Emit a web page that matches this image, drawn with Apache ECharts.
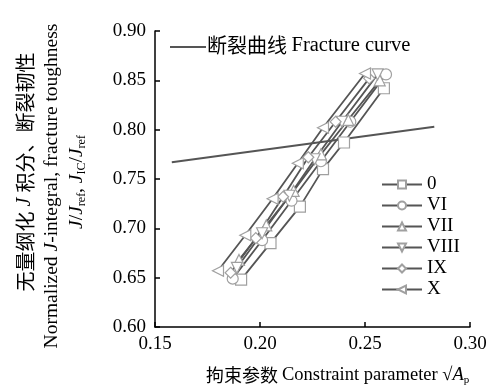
<!DOCTYPE html>
<html>
<head>
<meta charset="utf-8">
<script src="https://cdn.jsdelivr.net/npm/echarts@6/dist/echarts.min.js"></script>
<style>
  html, body { margin: 0; padding: 0; background: #fff; }
  #chart { width: 490px; height: 389px; }
</style>
</head>
<body>
<div id="chart"></div>
<script>
var dom = document.getElementById('chart');
var chart = echarts.init(dom, null, { renderer: 'canvas' });

// fracture curve
const fractureCurve = [[0.158, 0.767], [0.283, 0.803]];

// constraint parameter vs normalized J, per specimen
const names = ['0', 'VI', 'VII', 'VIII', 'IX', 'X'];
const s0    = [[0.191, 0.648], [0.205, 0.685], [0.219, 0.722], [0.230, 0.760], [0.240, 0.787], [0.259, 0.842]];
const sVI   = [[0.187, 0.649], [0.201, 0.688], [0.215, 0.728], [0.229, 0.768], [0.243, 0.808], [0.260, 0.856]];
const sVII  = [[0.190, 0.668], [0.203, 0.703], [0.216, 0.738], [0.229, 0.775], [0.242, 0.810], [0.257, 0.850]];
const sVIII = [[0.189, 0.660], [0.201, 0.695], [0.214, 0.733], [0.226, 0.770], [0.239, 0.808], [0.256, 0.856]];
const sIX   = [[0.186, 0.655], [0.198, 0.690], [0.211, 0.732], [0.223, 0.772], [0.236, 0.808], [0.252, 0.852]];
const sX    = [[0.180, 0.657], [0.193, 0.693], [0.206, 0.730], [0.218, 0.766], [0.230, 0.802], [0.250, 0.857]];

const seriesData = [s0, sVI, sVII, sVIII, sIX, sX];
const symbols = ['rect', 'circle', 'triangle', 'triangle', 'diamond', 'triangle'];
const rotates = [0, 0, 0, 180, 0, 90];

var serif = '"Liberation Serif", "Times New Roman", serif';
var cjk = '"Noto Sans CJK SC", sans-serif';

var series = [{
  name: 'fracture',
  type: 'line',
  data: fractureCurve,
  symbol: 'none',
  lineStyle: { color: '#555', width: 2 },
  itemStyle: { color: '#555' },
  z: 1
}];
for (let i = 0; i < names.length; i++) {
  series.push({
    name: names[i],
    type: 'line',
    data: seriesData[i],
    symbol: symbols[i],
    symbolRotate: rotates[i],
    symbolSize: 11,
    showAllSymbol: true,
    lineStyle: { color: '#555', width: 1.8 },
    itemStyle: { color: '#fff', borderColor: '#a0a0a0', borderWidth: 1.2 },
    z: 2
  });
}

var option = {
  backgroundColor: '#fff',
  animation: false,
  grid: { left: 155, right: 20, top: 31, bottom: 62 },
  xAxis: {
    type: 'value',
    min: 0.15, max: 0.30, interval: 0.05,
    axisLine: { lineStyle: { color: '#000', width: 1.5 } },
    axisTick: { inside: true, length: 5, lineStyle: { color: '#000', width: 1.5 } },
    axisLabel: { color: '#000', fontFamily: serif, fontSize: 19, margin: 8,
      formatter: function (v) { return v.toFixed(2); } },
    splitLine: { show: false }
  },
  yAxis: {
    type: 'value',
    min: 0.60, max: 0.90, interval: 0.05,
    axisLine: { show: true, lineStyle: { color: '#000', width: 1.5 } },
    axisTick: { show: true, inside: true, length: 5, lineStyle: { color: '#000', width: 1.5 } },
    axisLabel: { color: '#000', fontFamily: serif, fontSize: 19, margin: 9,
      formatter: function (v) { return v.toFixed(2); } },
    splitLine: { show: false }
  },
  legend: {
    data: names,
    orient: 'vertical',
    left: 376, top: 170,
    itemWidth: 40, itemHeight: 10,
    itemGap: 2,
    textStyle: { color: '#000', fontFamily: serif, fontSize: 19 }
  },
  graphic: [{
    type: 'line',
    shape: { x1: 170, y1: 47, x2: 206, y2: 47 },
    style: { stroke: '#555', lineWidth: 2 }
  }, {
    type: 'text',
    left: 207, top: 35,
    style: {
      text: '{c|断裂曲线 }{t|Fracture curve}',
      rich: {
        c: { fontFamily: cjk, fontSize: 20, fill: '#000' },
        t: { fontFamily: serif, fontSize: 20.5, fill: '#000' }
      }
    }
  }, {
    type: 'text',
    left: 206, top: 366,
    style: {
      text: '{c|拘束参数 }{t|Constraint parameter }{t|√}{i|A}{s|p}',
      rich: {
        c: { fontFamily: cjk, fontSize: 18, fill: '#000' },
        t: { fontFamily: serif, fontSize: 18.5, fill: '#000' },
        i: { fontFamily: serif, fontSize: 18.5, fontStyle: 'italic', fill: '#000' },
        s: { fontFamily: serif, fontSize: 11, fill: '#000', padding: [9, 0, 0, 0] }
      }
    }
  }, {
    type: 'text',
    x: 25, y: 172,
    rotation: Math.PI / 2,
    style: {
      text: '{c|无量纲化}{i| J }{c|积分、断裂韧性}',
      align: 'center', verticalAlign: 'middle',
      rich: {
        c: { fontFamily: cjk, fontSize: 20, fill: '#000' },
        i: { fontFamily: serif, fontSize: 20, fontStyle: 'italic', fill: '#000' }
      }
    }
  }, {
    type: 'text',
    x: 52, y: 186,
    rotation: Math.PI / 2,
    style: {
      text: '{t|Normalized }{i|J}{t|-integral, fracture toughness}',
      align: 'center', verticalAlign: 'middle',
      rich: {
        t: { fontFamily: serif, fontSize: 19.5, fill: '#000' },
        i: { fontFamily: serif, fontSize: 19.5, fontStyle: 'italic', fill: '#000' }
      }
    }
  }, {
    type: 'text',
    x: 77, y: 182,
    rotation: Math.PI / 2,
    style: {
      text: '{i|J}{t|/}{i|J}{s|ref}{t|, }{i|J}{s|IC}{t|/}{i|J}{s|ref}',
      align: 'center', verticalAlign: 'middle',
      rich: {
        t: { fontFamily: serif, fontSize: 19.5, fill: '#000' },
        i: { fontFamily: serif, fontSize: 19.5, fontStyle: 'italic', fill: '#000' },
        s: { fontFamily: serif, fontSize: 12, fill: '#000', padding: [10, 0, 0, 0] }
      }
    }
  }],
  series: series
};

chart.setOption(option);
window.addEventListener('resize', chart.resize);
</script>
</body>
</html>
